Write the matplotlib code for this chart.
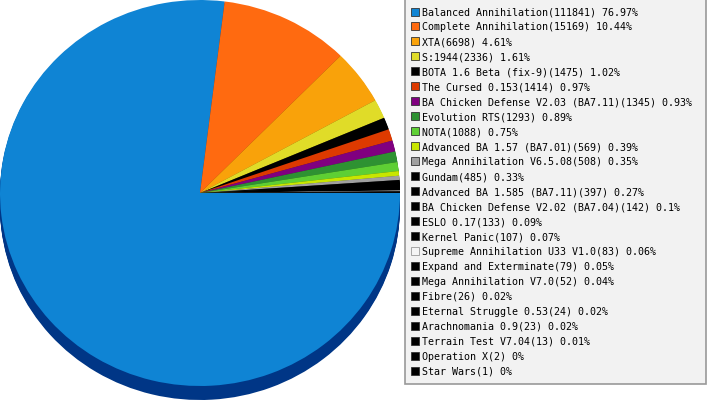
import matplotlib
matplotlib.use("Agg")
import matplotlib.pyplot as plt
from matplotlib.patches import Rectangle
from matplotlib.colors import to_rgb

names = ["Balanced Annihilation", "Complete Annihilation", "XTA", "S:1944",
         "BOTA 1.6 Beta (fix-9)", "The Cursed 0.153", "BA Chicken Defense V2.03 (BA7.11)",
         "Evolution RTS", "NOTA", "Advanced BA 1.57 (BA7.01)", "Mega Annihilation V6.5.08",
         "Gundam", "Advanced BA 1.585 (BA7.11)", "BA Chicken Defense V2.02 (BA7.04)",
         "ESLO 0.17", "Kernel Panic", "Supreme Annihilation U33 V1.0",
         "Expand and Exterminate", "Mega Annihilation V7.0", "Fibre",
         "Eternal Struggle 0.53", "Arachnomania 0.9", "Terrain Test V7.04",
         "Operation X", "Star Wars"]
counts = [111841, 15169, 6698, 2336, 1475, 1414, 1345, 1293, 1088, 569, 508, 485,
          397, 142, 133, 107, 83, 79, 52, 26, 24, 23, 13, 2, 1]
colors = ["#0F84D4", "#FF6A10", "#F9A20A", "#E0DC28", "#000000", "#DD3A00",
          "#800080", "#2E9232", "#5ECF34", "#C8E600", "#A0A0A0", "#000000",
          "#000000", "#000000", "#000000", "#000000", "#F4F4F4", "#000000",
          "#000000", "#000000", "#000000", "#000000", "#000000", "#000000", "#000000"]

total = sum(counts)
labels = ["{}({}) {:g}%".format(n, c, round(c / total * 100, 2)) for n, c in zip(names, counts)]

W, H = 707, 400
fig = plt.figure(figsize=(W / 100, H / 100), dpi=100)
fig.patch.set_facecolor("white")

# legend axes in pixel coordinates
ax = fig.add_axes([0, 0, 1, 1])
ax.set_xlim(0, W)
ax.set_ylim(H, 0)
ax.axis("off")

ax.add_patch(Rectangle((405, -1), 301, 385, facecolor="#F2F2F2", edgecolor="#999999", lw=1.2))
row0, step = 12.0, 14.97
for i, (lab, col) in enumerate(zip(labels, colors)):
    y = row0 + i * step
    ec = "#999999" if col.upper() == "#F4F4F4" else "#333333"
    ax.add_patch(Rectangle((410.5, y - 4.5), 8, 8, facecolor=col, edgecolor=ec, lw=0.6))
    ax.text(422, y + 0.5, lab, fontsize=7.2, family="DejaVu Sans Mono", va="center",
            ha="left", color="black")

# pie axes (elliptical)
depth_px = 14
ry = 193.0
d = depth_px / ry
pax = fig.add_axes([0, 0, 400 / W, 1])
pax.axis("off")

def darken(c, f=0.5):
    r, g, b = to_rgb(c)
    return (r * f, g * f, b * f)

side_colors = [darken(c) for c in colors]
side_colors[0] = "#003686"
for k in range(depth_px, 0, -1):
    pax.pie(counts, colors=side_colors, startangle=0, counterclock=False,
            center=(0, -k / ry), radius=1, wedgeprops=dict(linewidth=0))
pax.pie(counts, colors=colors, startangle=0, counterclock=False,
        center=(0, 0), radius=1, wedgeprops=dict(linewidth=0))
pax.set_xlim(-1, 1)
pax.set_ylim(-1 - d, 1 + (400 - 2 * ry - depth_px) / ry)
pax.set_aspect("auto")

fig.savefig("out.png", dpi=100, facecolor="white")
